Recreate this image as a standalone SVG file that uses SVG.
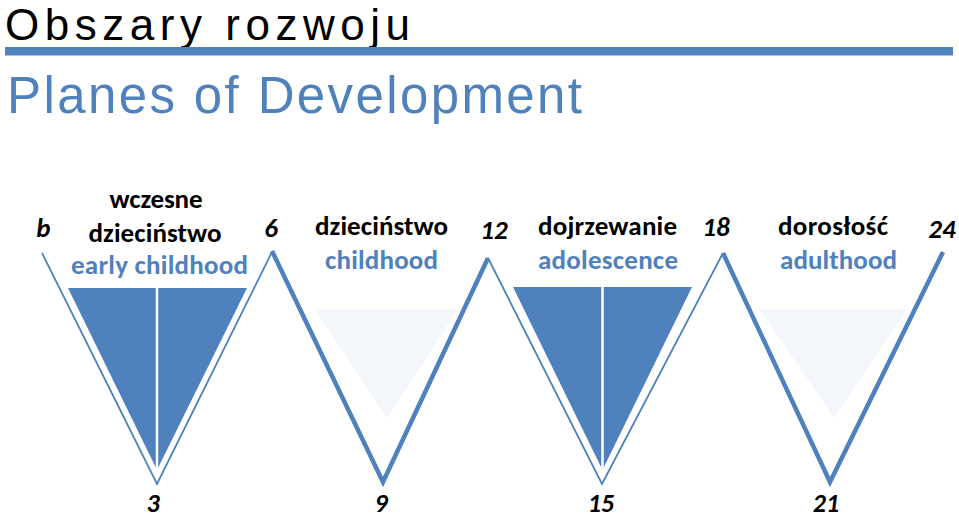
<svg xmlns="http://www.w3.org/2000/svg" width="959" height="518" viewBox="0 0 959 518">
<style>
.lbl{font-family:Carlito,Lato,"Liberation Sans",sans-serif;font-weight:700;font-size:27px;text-anchor:middle}
.pl{fill:#000}
.en{fill:#4F81BD}
.age{font-family:Carlito,Lato,"Liberation Sans",sans-serif;font-weight:700;font-style:italic;font-size:27px;text-anchor:middle;fill:#000}
.low{font-size:26px}
.dark{fill:#4F81BD}
.light{fill:#F3F6FB}
.div{stroke:#fff;stroke-width:2.5}
.thin{fill:none;stroke:#4F81BD;stroke-width:1.8;stroke-linejoin:miter}
.thick{fill:none;stroke:#4F81BD;stroke-width:4.5;stroke-linejoin:miter}
</style>
<rect width="959" height="518" fill="#fff"/>
<g id="title">
<text x="5" y="40" font-family="'Liberation Sans',Arial,sans-serif" font-size="44" fill="#000" textLength="405" lengthAdjust="spacing">Obszary rozwoju</text>
<rect x="5" y="47" width="948" height="8.5" fill="#4F81BD"/>
<text x="7" y="113" font-family="'Liberation Sans',Arial,sans-serif" font-size="51" fill="#4F81BD" textLength="575" lengthAdjust="spacing">Planes of Development</text>
</g>
<g id="stage-early-childhood">
<polygon class="dark" points="68,288 247,288 157,470"/>
<line class="div" x1="157" y1="287" x2="157" y2="471"/>
<text class="lbl pl" x="156" y="208" textLength="93" lengthAdjust="spacing">wczesne</text>
<text class="lbl pl" x="155" y="242" textLength="133" lengthAdjust="spacing">dzieciństwo</text>
<text class="lbl en" x="159.5" y="274" textLength="177" lengthAdjust="spacing">early childhood</text>
</g>
<g id="stage-childhood">
<polygon class="light" points="315,309 458,309 387,418"/>
<text class="lbl pl" x="381.5" y="235" textLength="133" lengthAdjust="spacing">dzieciństwo</text>
<text class="lbl en" x="381.5" y="269" textLength="113" lengthAdjust="spacing">childhood</text>
</g>
<g id="stage-adolescence">
<polygon class="dark" points="513,287 692,287 602.5,470"/>
<line class="div" x1="602.5" y1="286" x2="602.5" y2="471"/>
<text class="lbl pl" x="607.5" y="235" textLength="139" lengthAdjust="spacing">dojrzewanie</text>
<text class="lbl en" x="608" y="269" textLength="140" lengthAdjust="spacing">adolescence</text>
</g>
<g id="stage-adulthood">
<polygon class="light" points="760,309 907,309 834,418"/>
<text class="lbl pl" x="833" y="235" textLength="110" lengthAdjust="spacing">dorosłość</text>
<text class="lbl en" x="838.5" y="269" textLength="117" lengthAdjust="spacing">adulthood</text>
</g>
<g id="connectors">
<polyline class="thin" points="42,253 157,484 272,252"/>
<polyline class="thin" points="488,258 602,484 723,253"/>
<polyline class="thick" points="272,251 383,482 488,258"/>
<polyline class="thick" points="723,253 830,482 943,252"/>
</g>
<g id="ages">
<text class="age" x="43.5" y="237">b</text>
<text class="age" x="271" y="237">6</text>
<text class="age" x="494" y="239">12</text>
<text class="age" x="716" y="236">18</text>
<text class="age" x="942" y="238">24</text>
<text class="age low" x="153" y="512">3</text>
<text class="age low" x="381" y="512">9</text>
<text class="age low" x="601" y="512">15</text>
<text class="age low" x="826" y="512">21</text>
</g>
</svg>
